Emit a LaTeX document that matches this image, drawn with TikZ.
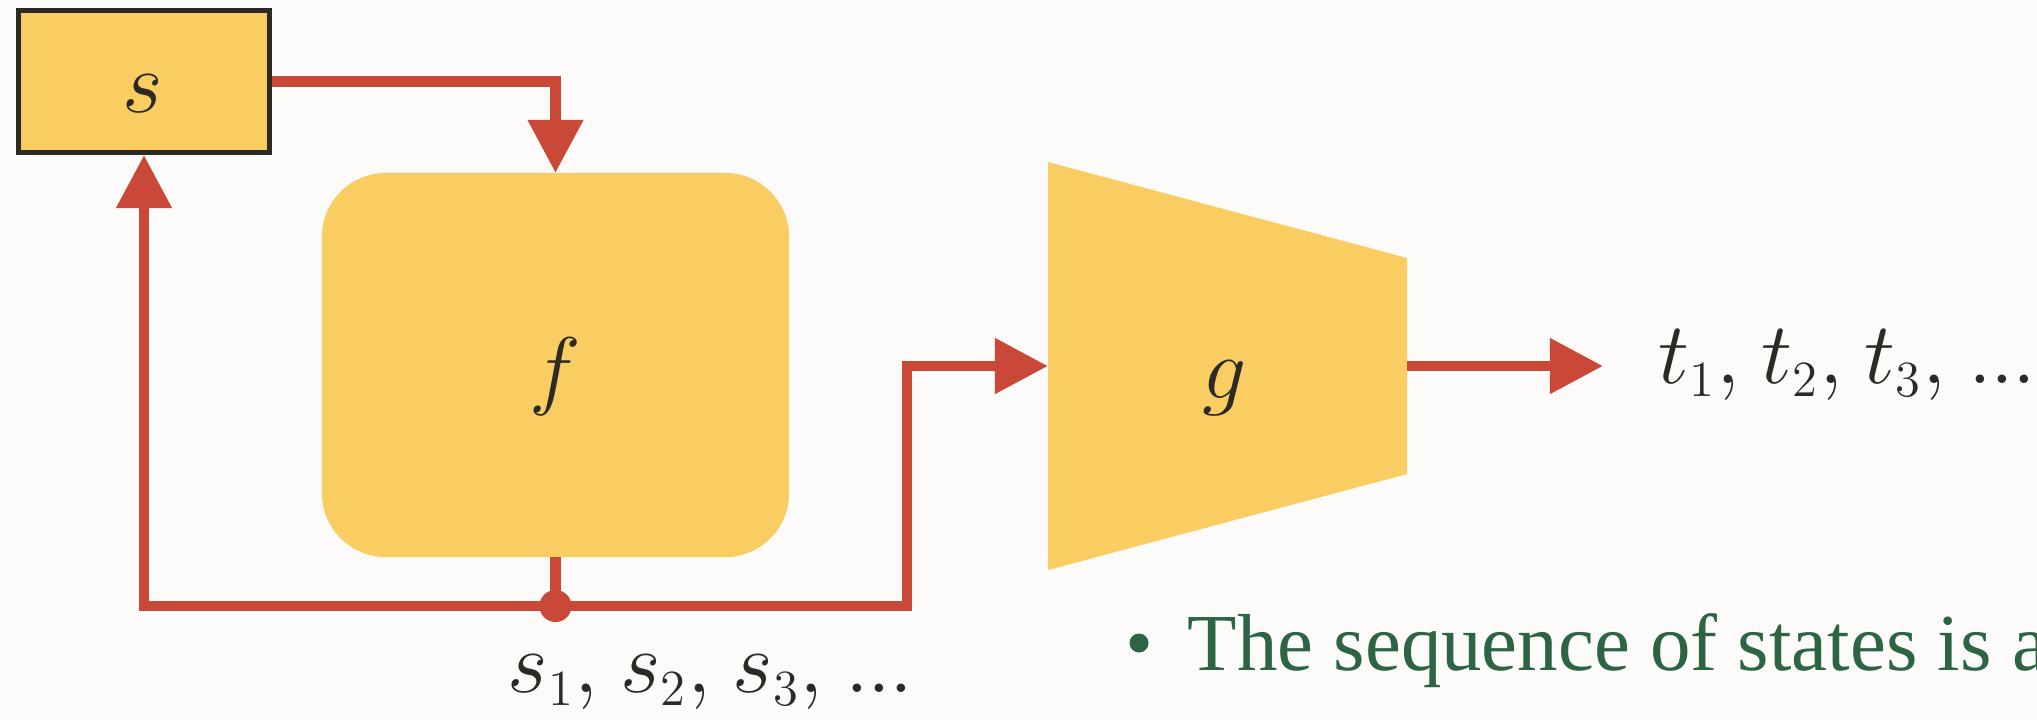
\documentclass[tikz,border=0pt]{standalone}
\usepackage{fontspec}
\newfontfamily\notefont{Liberation Serif}
\DeclareMathSizes{24.88}{24.88}{15}{11}
\usetikzlibrary{arrows.meta}

\definecolor{boxfill}{RGB}{250,205,98}
\definecolor{flowred}{RGB}{201,72,56}
\definecolor{inkdark}{RGB}{45,42,38}
\definecolor{notegreen}{RGB}{44,100,68}
\definecolor{paper}{RGB}{252,251,250}

\newcommand*{\picw}{2037}
\newcommand*{\pich}{720}
\newcommand*{\seqdots}{{.}\kern-0.5pt{.}\kern-0.5pt{.}}
\newcommand*{\sep}{,\mkern1.5mu}

\begin{document}
\begin{tikzpicture}
[
	x=0.01cm, y=-0.01cm,
	statebox/.style={draw=inkdark,line width=1.4pt,fill=boxfill,inner sep=0pt,
	  minimum width=2.51cm,minimum height=1.42cm},
	fbox/.style={fill=boxfill,rounded corners=0.64cm,inner sep=0pt,outer sep=0pt,
	  minimum width=4.67cm,minimum height=3.84cm},
	mathlbl/.style={inner sep=0pt,text=inkdark,font=\fontsize{24.88}{30}\selectfont},
	flow/.style={draw=flowred,line width=3.05pt,line join=miter},
	tip/.style={-{Triangle[length=0.53cm,width=0.53cm]}},
	junction/.style={circle,fill=flowred,inner sep=0pt,minimum size=0.32cm},
	notedot/.style={circle,fill=notegreen,inner sep=0pt,minimum size=0.19cm}
]

	% canvas
	\fill[paper] (0,0) rectangle (\picw,\pich);
	\useasboundingbox (0,0) rectangle (\picw,\pich);

	% blocks
	\node[statebox] (s) at (144,81.5) {};
	\node[mathlbl,anchor=base] at (143,112) {$s$};
	\node[fbox] (f) at (555.5,365) {};
	\node[mathlbl,anchor=base] at (555.5,398) {$f$};
	\fill[boxfill] (1048,162) -- (1407,258) -- (1407,474) -- (1048,570) -- cycle;
	\node[mathlbl,anchor=base] (g) at (1225,398) {$g$};
	\coordinate (gin) at (1048,366);
	\coordinate (gout) at (1407,366);

	% connectors
	\node[junction] (j) at (555.5,606) {};
	\coordinate (bend) at (907,366);
	\coordinate (tend) at (1603,366);
	\draw[flow,tip] (s.east) -| (f.north);
	\draw[flow] (f.south) -- (j.center);
	\draw[flow,tip] (j.center) -| (s.south);
	\draw[flow,tip] (j.center) -| (bend) -- (gin);
	\draw[flow,tip] (gout) -- (tend);

	% labels
	\node[mathlbl,anchor=base west] (tseq) at (1658,383) {$t_1\sep t_2\sep t_3\sep \seqdots$};
	\node[mathlbl,anchor=base west] (sseq) at (507,692) {$s_1\sep s_2\sep s_3\sep \seqdots$};
	\node[notedot] (bul) at (1139,643) {};
	\node[inner sep=0pt,anchor=base west,text=notegreen,font=\notefont\fontsize{23}{27}\selectfont]
	  (note) at (1187,670) {The sequence of states is a};

\end{tikzpicture}
\end{document}
